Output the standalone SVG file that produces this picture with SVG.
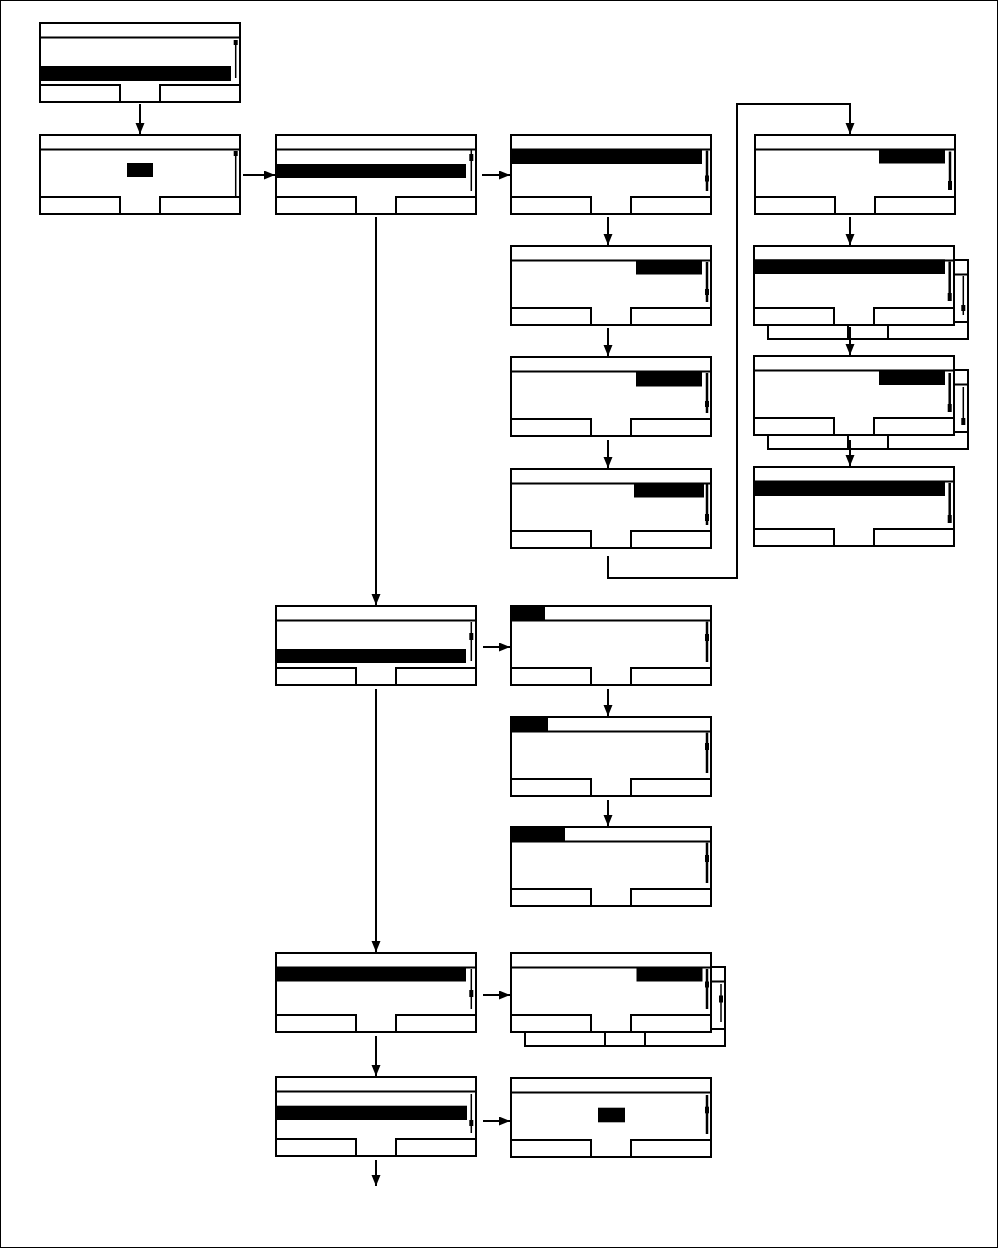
<svg xmlns="http://www.w3.org/2000/svg" width="998" height="1248" viewBox="0 0 998 1248">
<style>
.scr{fill:#fff;stroke:#000;stroke-width:2}
.ln{fill:none;stroke:#000;stroke-width:2}
.hl{fill:#000}
.sb{stroke:#000;stroke-width:1.5}
.sbk{stroke:#000;stroke-width:2.5}
.conn{fill:none;stroke:#000;stroke-width:2}
</style>
<defs>
<marker id="ah" markerUnits="userSpaceOnUse" markerWidth="12" markerHeight="10" refX="11" refY="4.5" orient="auto">
<path d="M0,0 L11,4.5 L0,9 z" fill="#000"/>
</marker>
<g id="bg"><rect x="0" y="0" width="200" height="79" class="scr"/></g>
<g id="lines"><rect x="0" y="0" width="200" height="79" fill="none" stroke="#000" stroke-width="2"/><path d="M0,14.5 H200 M0,62 H80 V79 M120,79 V62 H200" class="ln"/></g>
</defs>
<rect x="0.5" y="0.5" width="997" height="1247" fill="#fff" stroke="#000" stroke-width="1"/>

<g id="screen-1" transform="translate(40,23)">
<use href="#bg"/><rect class="hl" x="0" y="43" width="191" height="15"/>
<line class="sb" x1="195.7" y1="17" x2="195.7" y2="55"/><rect class="hl" x="193.7" y="17" width="4" height="5"/>
<use href="#lines"/></g>

<g id="screen-2" transform="translate(40,135)">
<use href="#bg"/><rect class="hl" x="87" y="28" width="26" height="14"/>
<line class="sb" x1="195.7" y1="16" x2="195.7" y2="63"/><rect class="hl" x="193.7" y="16" width="4" height="5"/>
<use href="#lines"/></g>

<g id="screen-3" transform="translate(276,135)">
<use href="#bg"/><rect class="hl" x="0" y="29" width="190" height="14"/>
<line class="sb" x1="195.3" y1="15" x2="195.3" y2="56"/><rect class="hl" x="193.3" y="19" width="4" height="7"/>
<use href="#lines"/></g>

<g id="screen-4" transform="translate(511,135)">
<use href="#bg"/><rect class="hl" x="0" y="14" width="191" height="15"/>
<line class="sbk" x1="196" y1="15.5" x2="196" y2="56"/><rect class="hl" x="194" y="40.5" width="4" height="6"/>
<use href="#lines"/></g>

<g id="screen-5" transform="translate(511,246)">
<use href="#bg"/><rect class="hl" x="125" y="14.5" width="66" height="14"/>
<line class="sbk" x1="196" y1="16" x2="196" y2="56"/><rect class="hl" x="194" y="43" width="4" height="6"/>
<use href="#lines"/></g>

<g id="screen-6" transform="translate(511,357)">
<use href="#bg"/><rect class="hl" x="125" y="14.5" width="66" height="15"/>
<line class="sbk" x1="196" y1="16" x2="196" y2="56"/><rect class="hl" x="194" y="44" width="4" height="6"/>
<use href="#lines"/></g>

<g id="screen-7" transform="translate(511,469)">
<use href="#bg"/><rect class="hl" x="123" y="14" width="70" height="14.5"/>
<line class="sbk" x1="196" y1="15" x2="196" y2="56"/><rect class="hl" x="194" y="45" width="4" height="7"/>
<use href="#lines"/></g>

<g id="screen-8" transform="translate(755,135)">
<use href="#bg"/><rect class="hl" x="124" y="14.5" width="66" height="14"/>
<line class="sbk" x1="195" y1="16.5" x2="195" y2="55"/><rect class="hl" x="193" y="46" width="4" height="9"/>
<use href="#lines"/></g>

<g id="screen-9" transform="translate(754,246)">
<g transform="translate(14,14)"><use href="#bg"/>
<line class="sb" x1="195.3" y1="16" x2="195.3" y2="55"/><rect class="hl" x="193.3" y="45" width="4" height="6"/>
<use href="#lines"/></g>
<use href="#bg"/><rect class="hl" x="0" y="13.5" width="191" height="14.5"/>
<line class="sbk" x1="195.7" y1="15.5" x2="195.7" y2="55"/><rect class="hl" x="193.7" y="47" width="4" height="8"/>
<use href="#lines"/></g>

<g id="screen-10" transform="translate(754,356)">
<g transform="translate(14,14)"><use href="#bg"/>
<line class="sb" x1="195.3" y1="17" x2="195.3" y2="55"/><rect class="hl" x="193.3" y="48" width="4" height="7"/>
<use href="#lines"/></g>
<use href="#bg"/><rect class="hl" x="125" y="15" width="66" height="14"/>
<line class="sbk" x1="195.7" y1="17" x2="195.7" y2="56"/><rect class="hl" x="193.7" y="48" width="4" height="8"/>
<use href="#lines"/></g>

<g id="screen-11" transform="translate(754,467)">
<use href="#bg"/><rect class="hl" x="0" y="15" width="191" height="14"/>
<line class="sbk" x1="195.7" y1="16" x2="195.7" y2="56"/><rect class="hl" x="193.7" y="48" width="4" height="8"/>
<use href="#lines"/></g>

<g id="screen-12" transform="translate(276,606)">
<use href="#bg"/><rect class="hl" x="0" y="43" width="190" height="14"/>
<line class="sb" x1="195.3" y1="16" x2="195.3" y2="55"/><rect class="hl" x="193.3" y="27" width="4" height="7"/>
<use href="#lines"/></g>

<g id="screen-13" transform="translate(511,606)">
<use href="#bg"/><rect class="hl" x="0" y="0" width="34" height="14.5"/>
<line class="sbk" x1="196" y1="15.5" x2="196" y2="56"/><rect class="hl" x="194" y="28" width="4" height="7"/>
<use href="#lines"/></g>

<g id="screen-14" transform="translate(511,717)">
<use href="#bg"/><rect class="hl" x="0" y="0" width="37" height="14.5"/>
<line class="sbk" x1="196" y1="15.5" x2="196" y2="56"/><rect class="hl" x="194" y="26" width="4" height="7"/>
<use href="#lines"/></g>

<g id="screen-15" transform="translate(511,827)">
<use href="#bg"/><rect class="hl" x="0" y="0" width="54" height="14.5"/>
<line class="sbk" x1="196" y1="15.5" x2="196" y2="56"/><rect class="hl" x="194" y="28" width="4" height="7"/>
<use href="#lines"/></g>

<g id="screen-16" transform="translate(276,953)">
<use href="#bg"/><rect class="hl" x="0" y="14" width="190" height="14.5"/>
<line class="sb" x1="195.3" y1="16" x2="195.3" y2="56"/><rect class="hl" x="193.3" y="37" width="4" height="7"/>
<use href="#lines"/></g>

<g id="screen-17" transform="translate(511,953)">
<g transform="translate(14,14)"><use href="#bg"/>
<line class="sb" x1="196" y1="17" x2="196" y2="55"/><rect class="hl" x="194" y="28.5" width="4" height="7"/>
<use href="#lines"/></g>
<use href="#bg"/><rect class="hl" x="125.5" y="14.5" width="66" height="14"/>
<line class="sbk" x1="196" y1="16" x2="196" y2="56"/><rect class="hl" x="194" y="28.5" width="4" height="6"/>
<use href="#lines"/></g>

<g id="screen-18" transform="translate(276,1077)">
<use href="#bg"/><rect class="hl" x="0" y="28.7" width="191" height="14.3"/>
<line class="sb" x1="195.3" y1="17" x2="195.3" y2="56"/><rect class="hl" x="193.3" y="43" width="4" height="6"/>
<use href="#lines"/></g>

<g id="screen-19" transform="translate(511,1078)">
<use href="#bg"/><rect class="hl" x="87" y="29.7" width="27" height="14.6"/>
<line class="sbk" x1="196" y1="17" x2="196" y2="56"/><rect class="hl" x="194" y="28.7" width="4" height="6.6"/>
<use href="#lines"/></g>

<g id="connectors">
<path class="conn" marker-end="url(#ah)" d="M140,104 V134"/>
<path class="conn" marker-end="url(#ah)" d="M243,175 H275"/>
<path class="conn" marker-end="url(#ah)" d="M482,175 H510"/>
<path class="conn" marker-end="url(#ah)" d="M376,217 V605"/>
<path class="conn" marker-end="url(#ah)" d="M608,217 V245"/>
<path class="conn" marker-end="url(#ah)" d="M608,328 V356"/>
<path class="conn" marker-end="url(#ah)" d="M608,440 V468"/>
<path class="conn" marker-end="url(#ah)" d="M608,556 V578 H737 V104 H850 V134"/>
<path class="conn" marker-end="url(#ah)" d="M850,217 V245"/>
<path class="conn" marker-end="url(#ah)" d="M850,327 V355"/>
<path class="conn" marker-end="url(#ah)" d="M850,440 V466"/>
<path class="conn" marker-end="url(#ah)" d="M483,647 H510"/>
<path class="conn" marker-end="url(#ah)" d="M376,689 V952"/>
<path class="conn" marker-end="url(#ah)" d="M608,689 V716"/>
<path class="conn" marker-end="url(#ah)" d="M608,800 V826"/>
<path class="conn" marker-end="url(#ah)" d="M483,995 H510"/>
<path class="conn" marker-end="url(#ah)" d="M376,1036 V1076"/>
<path class="conn" marker-end="url(#ah)" d="M483,1121 H510"/>
<path class="conn" marker-end="url(#ah)" d="M376,1160 V1186"/>
</g>
</svg>
